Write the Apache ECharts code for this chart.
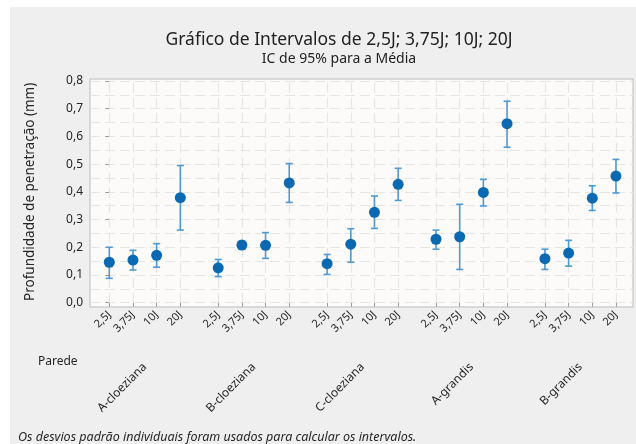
<!DOCTYPE html>
<html lang="pt">
<head>
    <meta charset="UTF-8">
    <title>Gráfico de Intervalos</title>
    <style>
        html, body { margin: 0; padding: 0; background: #ffffff; }
        #echarts {
            position: absolute;
            left: 10px;
            top: 7px;
            width: 626px;
            height: 437px;
            background: #efefef;
        }
    </style>
</head>
<body>
    <div id="echarts"></div>
    <script src="https://cdn.jsdelivr.net/npm/echarts@6/dist/echarts.min.js"></script>
    <script>
        // dados
        var paredes = ['A-cloeziana', 'B-cloeziana', 'C-cloeziana', 'A-grandis', 'B-grandis'];
        var energias = ['2,5J', '3,75J', '10J', '20J'];
        var medias = [0.146, 0.154, 0.171, 0.379,
                      0.126, 0.208, 0.207, 0.432,
                      0.141, 0.211, 0.326, 0.427,
                      0.229, 0.238, 0.398, 0.646,
                      0.159, 0.179, 0.377, 0.457];
        var inferior = [0.088, 0.118, 0.128, 0.262,
                        0.094, 0.193, 0.160, 0.362,
                        0.102, 0.146, 0.268, 0.369,
                        0.193, 0.120, 0.349, 0.561,
                        0.120, 0.132, 0.333, 0.396];
        var superior = [0.200, 0.189, 0.213, 0.495,
                        0.156, 0.222, 0.253, 0.502,
                        0.174, 0.267, 0.385, 0.485,
                        0.262, 0.355, 0.445, 0.727,
                        0.193, 0.225, 0.422, 0.517];

        // posição de cada ponto no eixo x (grupos separados por um espaço)
        var passoGrupo = 4.6;
        var posicoes = [];
        var centros = [];
        for (var g = 0; g < paredes.length; g++) {
            for (var i = 0; i < energias.length; i++)
                posicoes.push(Math.round((g * passoGrupo + i) * 100) / 100);
            centros.push(Math.round((g * passoGrupo + 1.5) * 100) / 100);
        }

        var pontos = [], barras = [];
        for (var k = 0; k < medias.length; k++) {
            pontos.push([posicoes[k], medias[k]]);
            barras.push([posicoes[k], inferior[k], superior[k]]);
        }

        var fonte = '"Noto Sans", "Open Sans", sans-serif';
        var grade = { color: '#e7e5e3', type: [10, 5], width: 1.2 };
        var myChart = echarts.init(document.getElementById('echarts'));

        myChart.setOption({
            animation: false,
            textStyle: { fontFamily: fonte },
            title: [{
                text: 'Gráfico de Intervalos de 2,5J; 3,75J; 10J; 20J',
                subtext: 'IC de 95% para a Média',
                left: 324,
                top: 19,
                textAlign: 'center',
                itemGap: 3,
                textStyle: { fontFamily: fonte, fontSize: 17.5, fontWeight: 'normal', color: '#222222' },
                subtextStyle: { fontFamily: fonte, fontSize: 14, color: '#222222' }
            }, {
                text: 'Parede',
                left: 23,
                top: 344,
                textStyle: { fontFamily: fonte, fontSize: 12, fontWeight: 'normal', color: '#262626' }
            }, {
                text: 'Os desvios padrão individuais foram usados para calcular os intervalos.',
                left: 3,
                top: 419,
                textStyle: { fontFamily: fonte, fontSize: 12.5, fontWeight: 'normal', fontStyle: 'italic', color: '#262626' }
            }],
            grid: [{
                // moldura da área do gráfico
                left: 80, right: 3, top: 72, bottom: 137,
                outerBoundsMode: 'none',
                show: true,
                backgroundColor: '#fdfbf9',
                borderColor: '#cfcfcf',
                borderWidth: 1.5
            }, {
                left: 80, right: 3, top: 74, bottom: 141.3,
                outerBoundsMode: 'none'
            }],
            xAxis: [{
                gridIndex: 0, type: 'value', show: false, min: 0, max: 1
            }, {
                gridIndex: 1,
                type: 'value',
                position: 'bottom',
                min: -0.815,
                max: 22.12,
                offset: 4.3,
                axisLine: { show: false },
                splitLine: { show: false },
                axisTick: { show: true, customValues: posicoes, length: 4, lineStyle: { color: '#9a9a9a' } },
                axisLabel: {
                    customValues: posicoes,
                    rotate: 45,
                    margin: 6,
                    fontSize: 11,
                    color: '#262626',
                    formatter: function (v) {
                        var idx = posicoes.indexOf(Math.round(v * 100) / 100);
                        return idx < 0 ? '' : energias[idx % energias.length];
                    }
                }
            }, {
                gridIndex: 1,
                type: 'value',
                position: 'bottom',
                min: -0.815,
                max: 22.12,
                offset: 4.3,
                axisLine: { show: false },
                splitLine: { show: false },
                axisTick: { show: false, customValues: centros },
                axisLabel: {
                    customValues: centros,
                    rotate: 45,
                    margin: 58,
                    fontSize: 12,
                    color: '#262626',
                    formatter: function (v) {
                        var idx = centros.indexOf(Math.round(v * 100) / 100);
                        return idx < 0 ? '' : paredes[idx];
                    }
                }
            }],
            yAxis: [{
                gridIndex: 0, type: 'value', show: false, min: 0, max: 1
            }, {
                gridIndex: 1,
                type: 'value',
                min: 0,
                max: 0.8,
                interval: 0.1,
                name: 'Profundidade de penetração (mm)',
                nameLocation: 'middle',
                nameGap: 53,
                nameTextStyle: { fontFamily: fonte, fontSize: 13.5, color: '#262626' },
                axisLine: { show: false },
                axisTick: { show: true, length: 4, lineStyle: { color: '#9a9a9a' } },
                axisLabel: {
                    margin: 7,
                    fontSize: 12,
                    color: '#262626',
                    formatter: function (v) { return v.toFixed(1).replace('.', ','); }
                },
                splitLine: { show: true, lineStyle: grade },
                minorTick: { show: false, splitNumber: 2 },
                minorSplitLine: { show: true, lineStyle: grade }
            }],
            series: [{
                // linhas verticais da grade em cada categoria
                type: 'scatter',
                xAxisIndex: 1,
                yAxisIndex: 1,
                data: [],
                silent: true,
                z: 1,
                markLine: {
                    silent: true,
                    z: 1,
                    symbol: 'none',
                    label: { show: false },
                    animation: false,
                    lineStyle: grade,
                    data: posicoes.map(function (p) { return { xAxis: p }; })
                }
            }, {
                // barras de erro (IC 95%)
                type: 'custom',
                xAxisIndex: 1,
                yAxisIndex: 1,
                data: barras,
                silent: true,
                z: 3,
                renderItem: function (params, api) {
                    var base = api.coord([api.value(0), api.value(1)]);
                    var topo = api.coord([api.value(0), api.value(2)]);
                    var meia = 3.5;
                    var estilo = { stroke: '#4f9ad2', lineWidth: 1.6 };
                    return {
                        type: 'group',
                        children: [{
                            type: 'line',
                            shape: { x1: base[0], y1: base[1], x2: topo[0], y2: topo[1] },
                            style: estilo
                        }, {
                            type: 'line',
                            shape: { x1: topo[0] - meia, y1: topo[1], x2: topo[0] + meia, y2: topo[1] },
                            style: estilo
                        }, {
                            type: 'line',
                            shape: { x1: base[0] - meia, y1: base[1], x2: base[0] + meia, y2: base[1] },
                            style: estilo
                        }]
                    };
                }
            }, {
                // médias
                type: 'scatter',
                xAxisIndex: 1,
                yAxisIndex: 1,
                data: pontos,
                symbol: 'circle',
                symbolSize: 11,
                itemStyle: { color: '#0a69b1', opacity: 1 },
                z: 5
            }]
        });

        window.addEventListener('resize', function () {
            myChart.resize();
        });
    </script>
</body>
</html>
